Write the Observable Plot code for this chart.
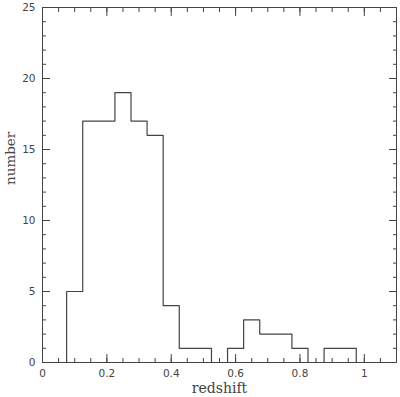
<!DOCTYPE html>
<html><head><meta charset="utf-8">
<script src="https://cdn.jsdelivr.net/npm/d3@7"></script>
<script src="https://cdn.jsdelivr.net/npm/@observablehq/plot@0.6"></script>
<style>body{margin:0;background:#fff}</style>
</head><body><div id="chart"></div>
<script>
const binStart = [0.075,0.125,0.175,0.225,0.275,0.325,0.375,0.425,0.475,0.525,0.575,0.625,0.675,0.725,0.775,0.825,0.875,0.925];
const counts   = [5,17,17,19,17,16,4,1,1,0,1,3,2,2,1,0,1,1];
const lastEdge = 0.975;
const xMajor = [0,0.2,0.4,0.6,0.8,1];
const xMinor = [0,0.05,0.1,0.15,0.2,0.25,0.3,0.35,0.4,0.45,0.5,0.55,0.6,0.65,0.7,0.75,0.8,0.85,0.9,0.95,1,1.05];
const yMajor = [0,5,10,15,20,25];
const yMinor = d3.range(0,26);

const steps = [{x: binStart[0], y: 0}]
  .concat(binStart.map((x,i)=>({x, y: counts[i]})))
  .concat([{x: lastEdge, y: 0}]);

const col = "#444";
const chart = Plot.plot({
  width: 400, height: 397,
  marginLeft: 42, marginRight: 4, marginTop: 7, marginBottom: 35,
  style: {fontFamily: "DejaVu Sans, sans-serif", fontSize: "10.5px", color: col, background: "#fff"},
  x: {domain: [0, 1.1]},
  y: {domain: [0, 25]},
  marks: [
    Plot.axisX({anchor: "bottom", ticks: xMinor, tickSize: -4, tickFormat: () => "", label: null}),
    Plot.axisX({anchor: "bottom", ticks: xMajor, tickSize: -8, tickPadding: 15, tickFormat: d => String(d), label: null}),
    Plot.axisX({anchor: "top", ticks: xMinor, tickSize: -4, tickFormat: () => "", label: null}),
    Plot.axisX({anchor: "top", ticks: xMajor, tickSize: -8, tickFormat: () => "", label: null}),
    Plot.axisY({anchor: "left", ticks: yMinor, tickSize: -4, tickFormat: () => "", label: null}),
    Plot.axisY({anchor: "left", ticks: yMajor, tickSize: -8, tickPadding: 15, tickFormat: d => String(d), label: null}),
    Plot.axisY({anchor: "right", ticks: yMinor, tickSize: -4, tickFormat: () => "", label: null}),
    Plot.axisY({anchor: "right", ticks: yMajor, tickSize: -8, tickFormat: () => "", label: null}),
    Plot.frame({stroke: col}),
    Plot.line(steps, {x: "x", y: "y", curve: "step-after", stroke: col, strokeWidth: 1.2}),
    Plot.text(["redshift"], {frameAnchor: "bottom", dy: 30, fontFamily: "DejaVu Serif", fontSize: 14, fill: col}),
    Plot.text(["number"], {frameAnchor: "left", dx: -32, rotate: -90, fontFamily: "DejaVu Serif", fontSize: 13.5, fill: col})
  ]
});
document.getElementById("chart").appendChild(chart);
</script></body></html>
